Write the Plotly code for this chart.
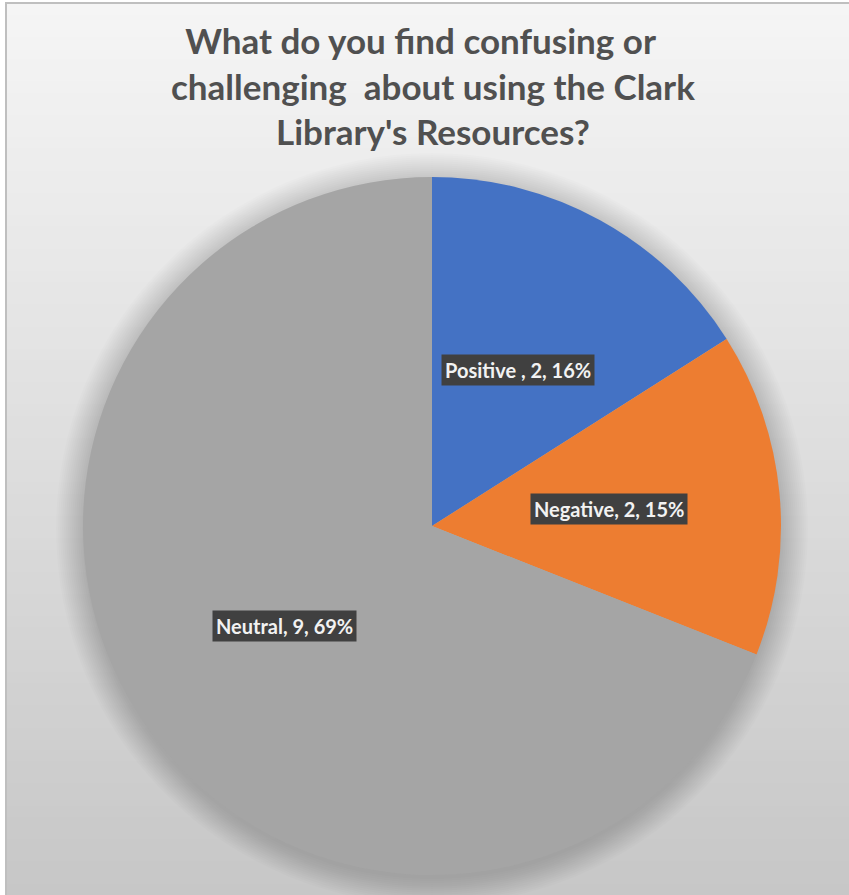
import math
import plotly.graph_objects as go

# ---- data ----
categories = ["Positive ", "Negative", "Neutral"]
counts = [2, 2, 9]
percents = [16, 15, 69]
colors = ["#4472C4", "#ED7D31", "#A5A5A5"]
title_lines = ["What do you find confusing or&nbsp;&nbsp;&nbsp;",
               "challenging  about using the Clark",
               "Library's Resources?"]

W, H = 849, 895
cx_px, cy_px, R = 432, 526, 349

dom_x = [(cx_px - R) / W, (cx_px + R) / W]
dom_y = [(H - (cy_px + R)) / H, (H - (cy_px - R)) / H]

fig = go.Figure()
fig.add_trace(go.Pie(
    labels=categories,
    values=percents,
    marker=dict(colors=colors, line=dict(width=0)),
    sort=False,
    direction="clockwise",
    rotation=0,
    textinfo="none",
    hoverinfo="label+value",
    domain=dict(x=dom_x, y=dom_y),
    showlegend=False,
))

shapes = []
# background gradient (vertical bands)
top_y, n_bands = 3, 80
for i in range(n_bands):
    y0 = top_y + (H - top_y) * i / n_bands
    y1 = top_y + (H - top_y) * (i + 1) / n_bands + 1
    t = i / (n_bands - 1)
    g = round(245 - (245 - 199) * t)
    shapes.append(dict(type="rect", xref="paper", yref="paper", layer="below",
                       x0=6 / W, x1=1.0, y0=1 - y1 / H, y1=1 - y0 / H,
                       fillcolor=f"rgb({g},{g},{g})", line=dict(width=0)))
# soft shadow around pie
for k in range(14):
    rr = R + 1 + k * 2.0
    sy = cy_px + 3
    shapes.append(dict(type="circle", xref="paper", yref="paper", layer="below",
                       x0=(cx_px - rr) / W, x1=(cx_px + rr) / W,
                       y0=1 - (sy + rr) / H, y1=1 - (sy - rr) / H,
                       fillcolor="rgba(0,0,0,0.012)", line=dict(width=0)))
# frame
shapes.append(dict(type="rect", xref="paper", yref="paper", layer="above",
                   x0=6 / W, x1=1.05, y0=-0.05, y1=1 - 3 / H,
                   fillcolor="rgba(0,0,0,0)", line=dict(color="#BFBFBF", width=2)))

# data labels at mid-angle of each slice
annotations = []
total = sum(percents)
cum = 0
for cat, c, p in zip(categories, counts, percents):
    mid = (cum + p / 2) / total * 2 * math.pi
    cum += p
    lx = cx_px + 0.51 * R * math.sin(mid)
    ly = cy_px - 0.51 * R * math.cos(mid)
    annotations.append(dict(
        x=lx / W, y=1 - ly / H, xref="paper", yref="paper",
        text=f"<b>{cat}, {c}, {p}%</b>", showarrow=False,
        font=dict(family="Lato", size=20, color="#F2F2F2"),
        bgcolor="#404040", borderpad=3,
        xanchor="center", yanchor="middle"))

annotations.append(dict(
    x=433 / W, y=1 - 17 / H, xref="paper", yref="paper",
    text="<b>" + "<br>".join(title_lines) + "</b>", showarrow=False,
    font=dict(family="Lato", size=35, color="#505050"),
    xanchor="center", yanchor="top", align="center"))

fig.update_layout(
    width=W, height=H,
    margin=dict(l=0, r=0, t=0, b=0),
    paper_bgcolor="white",
    plot_bgcolor="white",
    shapes=shapes,
    annotations=annotations,
)
fig.write_html("out.html")
